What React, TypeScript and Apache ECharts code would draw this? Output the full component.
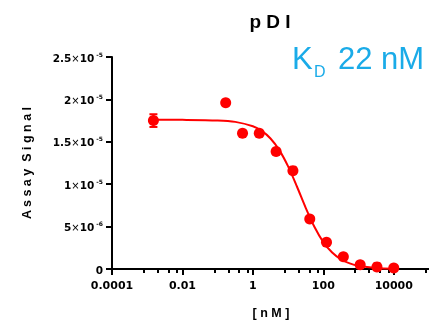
import React, { useEffect, useRef } from "react";
import * as echarts from "echarts";

// Concentrations (nM) of the measured points
const concentrations = [0.0015, 0.169, 0.508, 1.52, 4.57, 13.7, 41.2, 123, 370, 1111, 3333, 10000];
// Assay signal of the measured points
const signals = [1.75e-5, 1.96e-5, 1.6e-5, 1.6e-5, 1.385e-5, 1.16e-5, 0.59e-5, 0.315e-5, 0.145e-5, 0.05e-5, 0.025e-5, 0.012e-5];
// Error (SEM) of each point; only the first one is visible
const errors = [0.075e-5, 0, 0, 0, 0, 0, 0, 0, 0, 0, 0, 0];

// Fitted curve
const curveX = [0.0015, 0.01, 0.1, 0.316, 1, 1.78, 3.16, 5.62, 10, 17.8, 31.6, 56.2, 100, 178, 316, 562, 1000, 3162, 10000];
const curveY = [1.76e-5, 1.759e-5, 1.752e-5, 1.735e-5, 1.683e-5, 1.628e-5, 1.539e-5, 1.402e-5, 1.21e-5, 0.973e-5, 0.722e-5, 0.495e-5, 0.317e-5, 0.194e-5, 0.1145e-5, 0.0663e-5, 0.0379e-5, 0.0122e-5, 0.0039e-5];

// Axis ticks
const xMajorTicks = [0.0001, 0.01, 1, 100, 10000];
const xTickLabels = ["0.0001", "0.01", "1", "100", "10000"];
const xMinorTicks = [0.0008, 0.002, 0.004, 0.007, 0.08, 0.2, 0.4, 0.7, 8, 20, 40, 70, 800, 2000, 4000, 7000, 80000];
const yTickMantissa = ["0", "5", "1", "1.5", "2", "2.5"];
const yTickExponent = ["", "-6", "-5", "-5", "-5", "-5"];

const titleText = "p D I";
const yAxisTitle = "A s s a y  S i g n a l";
const xAxisTitle = "[ n M ]";
const kdLetter = "K";
const kdSub = "D";
const kdValue = "22 nM";

const RED = "#FF0000";
const BLUE = "#1AABE8";

export default function App() {
  const ref = useRef<HTMLDivElement>(null);

  useEffect(() => {
    if (!ref.current) return;
    const chart = echarts.init(ref.current, null, { renderer: "svg" });

    const yStep = 5e-6;
    const option: any = {
      animation: false,
      grid: { left: 112, right: 0, top: 57, bottom: 53, containLabel: false },
      xAxis: [
        {
          type: "log",
          logBase: 10,
          min: 0.0001,
          max: 100000,
          position: "bottom",
          axisLine: { show: true, onZero: false, lineStyle: { color: "#000", width: 2 } },
          axisTick: { show: true, length: 6, customValues: xMajorTicks, lineStyle: { color: "#000", width: 2 } },
          axisLabel: {
            show: true,
            customValues: xMajorTicks,
            margin: 11,
            fontFamily: "DejaVu Sans",
            fontWeight: "bold",
            fontSize: 11,
            color: "#000",
            formatter: (v: number) => {
              const i = xMajorTicks.findIndex((t) => Math.abs(Math.log10(t) - Math.log10(v)) < 1e-6);
              return i >= 0 ? xTickLabels[i] : "";
            },
          },
          splitLine: { show: false },
          minorTick: { show: false },
        },
        {
          type: "log",
          logBase: 10,
          min: 0.0001,
          max: 100000,
          position: "bottom",
          axisLine: { show: false, onZero: false },
          axisTick: { show: true, length: 4, customValues: xMinorTicks, lineStyle: { color: "#000", width: 2 } },
          axisLabel: { show: false },
          splitLine: { show: false },
        },
      ],
      yAxis: {
        type: "value",
        min: 0,
        max: 2.5e-5,
        interval: yStep,
        axisLine: { show: true, onZero: false, lineStyle: { color: "#000", width: 2 } },
        axisTick: { show: true, length: 6, lineStyle: { color: "#000", width: 2 } },
        splitLine: { show: false },
        axisLabel: {
          margin: 9,
          color: "#000",
          formatter: (v: number) => {
            const i = Math.round(v / yStep);
            const m = yTickMantissa[i];
            const e = yTickExponent[i];
            if (!e) return `{m|${m}}`;
            return `{m|${m}}{x|×}{m|10}{s| ${e}}`;
          },
          rich: {
            m: { fontFamily: "DejaVu Sans", fontWeight: "bold", fontSize: 10.5, lineHeight: 12, verticalAlign: "bottom", color: "#000" },
            x: { fontFamily: "DejaVu Sans", fontWeight: "normal", fontSize: 10, lineHeight: 12, verticalAlign: "bottom", color: "#000" },
            s: { fontFamily: "DejaVu Sans", fontWeight: "bold", fontSize: 6, lineHeight: 8, verticalAlign: "top", color: "#000" },
          },
        },
      },
      graphic: [
        {
          type: "text",
          x: 270,
          y: 21,
          style: { text: titleText, fontFamily: "Liberation Sans", fontWeight: "bold", fontSize: 19, fill: "#000", align: "center", verticalAlign: "middle" },
        },
        {
          type: "text",
          x: 27,
          y: 163,
          rotation: Math.PI / 2,
          style: { text: yAxisTitle, fontFamily: "Liberation Sans", fontWeight: "bold", fontSize: 12.5, fill: "#000", align: "center", verticalAlign: "middle" },
        },
        {
          type: "text",
          x: 271,
          y: 313,
          style: { text: xAxisTitle, fontFamily: "Liberation Sans", fontWeight: "bold", fontSize: 12.5, fill: "#000", align: "center", verticalAlign: "middle" },
        },
        {
          type: "text",
          x: 292,
          y: 58,
          style: { text: kdLetter, fontFamily: "Liberation Sans", fontSize: 31, fill: BLUE, align: "left", verticalAlign: "middle" },
        },
        {
          type: "text",
          x: 314,
          y: 71,
          style: { text: kdSub, fontFamily: "Liberation Sans", fontSize: 16, fill: BLUE, align: "left", verticalAlign: "middle" },
        },
        {
          type: "text",
          x: 338,
          y: 58,
          style: { text: kdValue, fontFamily: "Liberation Sans", fontSize: 31, fill: BLUE, align: "left", verticalAlign: "middle" },
        },
      ],
      series: [
        {
          type: "line",
          xAxisIndex: 0,
          data: curveX.map((x, i) => [x, curveY[i]]),
          smooth: 0.3,
          showSymbol: false,
          symbol: "none",
          lineStyle: { color: RED, width: 2 },
          z: 2,
        },
        {
          type: "custom",
          xAxisIndex: 0,
          data: concentrations.map((x, i) => [x, signals[i], errors[i]]),
          renderItem: (_params: any, api: any) => {
            const x = api.value(0);
            const y = api.value(1);
            const e = api.value(2);
            if (!e) return { type: "group", children: [] };
            const top = api.coord([x, y + e]);
            const bot = api.coord([x, y - e]);
            const cw = 4;
            const style = { stroke: RED, lineWidth: 2, fill: "none" };
            return {
              type: "group",
              children: [
                { type: "line", shape: { x1: top[0], y1: top[1], x2: bot[0], y2: bot[1] }, style },
                { type: "line", shape: { x1: top[0] - cw, y1: top[1], x2: top[0] + cw, y2: top[1] }, style },
                { type: "line", shape: { x1: bot[0] - cw, y1: bot[1], x2: bot[0] + cw, y2: bot[1] }, style },
              ],
            };
          },
          z: 3,
        },
        {
          type: "scatter",
          xAxisIndex: 0,
          data: concentrations.map((x, i) => [x, signals[i]]),
          symbol: "circle",
          symbolSize: 11,
          itemStyle: { color: RED, opacity: 1 },
          z: 4,
        },
      ],
    };

    chart.setOption(option);
    return () => chart.dispose();
  }, []);

  return <div ref={ref} style={{ position: "fixed", left: 0, top: 0, width: 429, height: 322 }} />;
}
